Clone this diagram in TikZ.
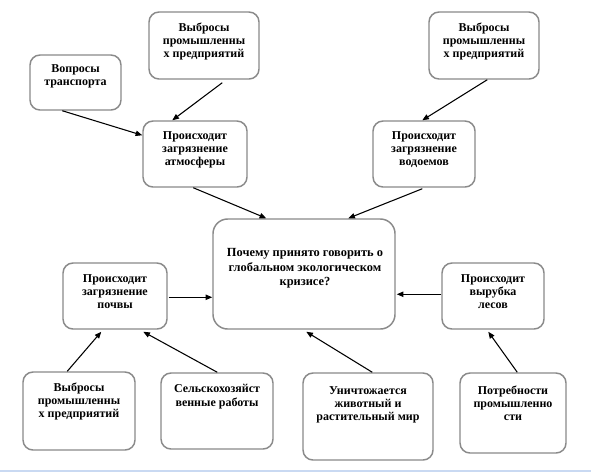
\documentclass[tikz,border=0pt]{standalone}
\usepackage{fontspec}
\setmainfont{Liberation Serif}
\usetikzlibrary{arrows.meta,calc,fit}
\definecolor{boxgray}{HTML}{8A8A8A}
\definecolor{blueline}{HTML}{C9D9F2}
\begin{document}
\begin{tikzpicture}[x=0.75pt,y=-0.75pt,
  box/.style={draw=boxgray,line width=1.1pt,rounded corners=7.5pt,inner sep=0pt},
  bigbox/.style={box,rounded corners=11pt},
  txt/.style={anchor=north,inner sep=0pt,align=center,font=\bfseries\fontsize{9}{9.9}\selectfont},
  bigtxt/.style={txt,font=\bfseries\fontsize{9.3}{10.9}\selectfont},
  arr/.style={line width=0.8pt,-{Triangle[length=5pt,width=4pt]}}
]
\useasboundingbox (0,0) rectangle (591,472);
\fill[white] (0,0) rectangle (591,472);
\fill[blueline] (0,469.5) rectangle (591,472);

% boxes
\node[box,fit={(30,55) (121,110)}] (vop) {};
\node[box,fit={(149,12) (259,79)}] (vyb1) {};
\node[box,fit={(143,121) (247,187)}] (atm) {};
\node[box,fit={(429,12) (539,79)}] (vyb2) {};
\node[box,fit={(373,121) (475,187)}] (vod) {};
\node[bigbox,fit={(213,219) (395,329)}] (cen) {};
\node[box,fit={(63,263) (167,329)}] (poch) {};
\node[box,fit={(442,263) (544,329)}] (vyr) {};
\node[box,fit={(23,372) (135,450)}] (vyb3) {};
\node[box,fit={(161,373) (273,449)}] (sel) {};
\node[box,fit={(303,373) (433,460)}] (unich) {};
\node[box,fit={(460,373) (566,453)}] (potr) {};

% texts
\node[txt] (vopT) at ($(vop.north)+(0,10)$) {Вопросы\\транспорта};
\node[txt] (vyb1T) at ($(vyb1.north)+(0,11)$) {Выбросы\\промышленны\\х предприятий};
\node[txt] (atmT) at ($(atm.north)+(0,11)$) {Происходит\\загрязнение\\атмосферы};
\node[txt] (vyb2T) at ($(vyb2.north)+(0,11)$) {Выбросы\\промышленны\\х предприятий};
\node[txt] (vodT) at ($(vod.north)+(0,11)$) {Происходит\\загрязнение\\водоемов};
\node[bigtxt] (cenT) at ($(cen.north)+(1,30)$) {Почему принято говорить о\\глобальном экологическом\\кризисе?};
\node[txt] (pochT) at ($(poch.north)+(0,12)$) {Происходит\\загрязнение\\почвы};
\node[txt] (vyrT) at ($(vyr.north)+(0,12)$) {Происходит\\вырубка\\лесов};
\node[txt] (vyb3T) at ($(vyb3.north)+(0,11)$) {Выбросы\\промышленны\\х предприятий};
\node[txt] (selT) at ($(sel.north)+(0,12)$) {Сельскохозяйст\\венные работы};
\node[txt] (unichT) at ($(unich.north)+(0,14)$) {Уничтожается\\животный и\\растительный мир};
\node[txt] (potrT) at ($(potr.north)+(0,13)$) {Потребности\\промышленно\\сти};

% connectors
\draw[arr] ($(vop.south west)+(33,0)$) -- ($(atm.north west)+(0,15)$);
\draw[arr] ($(vyb1.south west)+(74,3)$) -- ($(atm.north west)+(30,0)$);
\draw[arr] ($(vyb2.south west)+(59,0)$) -- ($(vod.north west)+(50,0)$);
\draw[arr] ($(atm.south west)+(51,0)$) -- ($(cen.north west)+(54,0)$);
\draw[arr] ($(vod.south west)+(50,1)$) -- ($(cen.north west)+(136,0)$);
\draw[arr] ($(poch.north east)+(1,35)$) -- ($(cen.north west)+(0,79)$);
\draw[arr] ($(vyr.north west)+(0,32)$) -- ($(cen.north east)+(1,76)$);
\draw[arr] ($(vyb3.north west)+(45,0)$) -- ($(poch.south west)+(39,2)$);
\draw[arr] ($(sel.north west)+(57,0)$) -- ($(poch.south west)+(81,2)$);
\draw[arr] ($(unich.north west)+(70,0)$) -- ($(cen.south west)+(94,2)$);
\draw[arr] ($(potr.north west)+(58,0)$) -- ($(vyr.south west)+(47,2)$);
\end{tikzpicture}
\end{document}
